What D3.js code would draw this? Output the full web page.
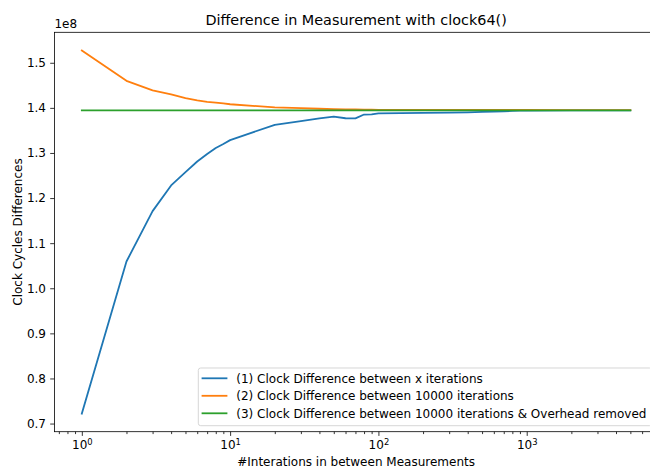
<!DOCTYPE html>
<html>
<head>
<meta charset="utf-8">
<script src="https://cdn.jsdelivr.net/npm/d3@7"></script>
<style>
  html, body { margin: 0; padding: 0; background: #fff; }
  svg { display: block; font-family: "DejaVu Sans", sans-serif; }
</style>
</head>
<body>
<svg id="chart" width="650" height="469"></svg>
<script>
// Iteration counts between measurements (log x axis)
const iterations = [1, 2, 3, 4, 5, 6, 7, 8, 9, 10,
  20, 30, 40, 50, 60, 70, 80, 90, 100,
  200, 300, 400, 500, 600, 700, 800, 900, 1000,
  2000, 3000, 4000, 5000];

// Clock cycle differences, in units of 1e8
const diffXIterations = [0.7222, 1.0594, 1.1710, 1.2280, 1.2574, 1.2810, 1.2975, 1.3110, 1.3200, 1.3285,
  1.3625, 1.3705, 1.3765, 1.3805, 1.3770, 1.3768, 1.3852, 1.3855, 1.3878,
  1.3888, 1.3895, 1.3902, 1.3910, 1.3918, 1.3925, 1.3932, 1.3937, 1.3940,
  1.3944, 1.3945, 1.3945, 1.3945];
const diff10000 = [1.5273, 1.4600, 1.4386, 1.4300, 1.4215, 1.4165, 1.4135, 1.4118, 1.4098, 1.4080,
  1.4010, 1.3995, 1.3980, 1.3972, 1.3966, 1.3965, 1.3960, 1.3958, 1.3957,
  1.3955, 1.3954, 1.3954, 1.3954, 1.3954, 1.3954, 1.3954, 1.3954, 1.3953,
  1.3952, 1.3952, 1.3952, 1.3952];
const diff10000NoOverhead = iterations.map(() => 1.3944);

const seriesLabels = [
  "(1) Clock Difference between x iterations",
  "(2) Clock Difference between 10000 iterations",
  "(3) Clock Difference between 10000 iterations & Overhead removed"
];
const seriesColors = ["#1f77b4", "#ff7f0e", "#2ca02c"];

const yTicks = [0.7, 0.8, 0.9, 1.0, 1.1, 1.2, 1.3, 1.4, 1.5];
const xTicks = [1, 10, 100, 1000];
const xTickExponents = ["0", "1", "2", "3"];

const titleText = "Difference in Measurement with clock64()";
const xLabelText = "#Interations in between Measurements";
const yLabelText = "Clock Cycles Differences";
const offsetText = "1e8";

// ---- layout ----
const svg = d3.select("#chart");
const axLeft = 54.4, axRight = 657.8, axTop = 32.3, axBottom = 431.7;
const fs = 12;

const allSeries = [diffXIterations, diff10000, diff10000NoOverhead];

// autoscale with 5% margins (log space for x)
const lx0 = Math.log10(d3.min(iterations)), lx1 = Math.log10(d3.max(iterations));
const lpad = (lx1 - lx0) * 0.05;
const x = d3.scaleLog()
  .domain([Math.pow(10, lx0 - lpad), Math.pow(10, lx1 + lpad)])
  .range([axLeft, axRight]);

const yMin = d3.min(allSeries, s => d3.min(s));
const yMax = d3.max(allSeries, s => d3.max(s));
const ypad = (yMax - yMin) * 0.05;
const y = d3.scaleLinear()
  .domain([yMin - ypad, yMax + ypad])
  .range([axBottom, axTop]);

// clip for the plot area
svg.append("defs").append("clipPath").attr("id", "plotClip")
  .append("rect").attr("x", axLeft).attr("y", axTop)
  .attr("width", axRight - axLeft).attr("height", axBottom - axTop);

// ---- lines ----
const line = d3.line().x(d => x(d[0])).y(d => y(d[1]));
const plot = svg.append("g").attr("clip-path", "url(#plotClip)");
allSeries.forEach((vals, i) => {
  plot.append("path")
    .datum(iterations.map((it, j) => [it, vals[j]]))
    .attr("d", line)
    .attr("fill", "none")
    .attr("stroke", seriesColors[i])
    .attr("stroke-width", 1.8)
    .attr("stroke-linejoin", "round")
    .attr("stroke-linecap", "square");
});

// ---- axes ----
const [d0, d1] = x.domain();
const minorTicks = [];
for (let e = Math.floor(Math.log10(d0)); e <= Math.ceil(Math.log10(d1)); e++) {
  for (let k = 2; k <= 9; k++) {
    const v = k * Math.pow(10, e);
    if (v >= d0 && v <= d1) minorTicks.push(v);
  }
}

const xMinorAxis = svg.append("g")
  .attr("transform", `translate(0,${axBottom})`)
  .call(d3.axisBottom(x).tickValues(minorTicks).tickSize(2.4).tickSizeOuter(0).tickFormat(""));
xMinorAxis.select(".domain").remove();
xMinorAxis.selectAll("line").attr("stroke", "#000").attr("stroke-width", 0.8);

const xAxis = svg.append("g")
  .attr("transform", `translate(0,${axBottom})`)
  .call(d3.axisBottom(x).tickValues(xTicks).tickSize(4.2).tickPadding(4.2).tickSizeOuter(0).tickFormat(""));
xAxis.select(".domain").remove();
xAxis.selectAll("line").attr("stroke", "#000").attr("stroke-width", 0.8);
xAxis.selectAll(".tick text").each(function(d, i) {
  const t = d3.select(this);
  t.attr("font-size", fs).attr("font-family", "DejaVu Sans").attr("fill", "#000").attr("dy", "0.76em");
  t.text("10");
  t.append("tspan").attr("font-size", 8.4).attr("dy", "-0.55em").text(xTickExponents[i]);
});

const yAxis = svg.append("g")
  .attr("transform", `translate(${axLeft},0)`)
  .call(d3.axisLeft(y).tickValues(yTicks).tickSize(4.2).tickPadding(4.2).tickSizeOuter(0).tickFormat(d3.format(".1f")));
yAxis.select(".domain").remove();
yAxis.selectAll("line").attr("stroke", "#000").attr("stroke-width", 0.8);
yAxis.selectAll("text").attr("font-size", fs).attr("font-family", "DejaVu Sans").attr("fill", "#000");

// spines
const spines = svg.append("g").attr("stroke", "#000").attr("stroke-width", 0.8).attr("fill", "none");
spines.append("rect").attr("x", axLeft).attr("y", axTop)
  .attr("width", axRight - axLeft).attr("height", axBottom - axTop);

// ---- texts ----
svg.append("text").attr("x", (axLeft + axRight) / 2).attr("y", 25)
  .attr("text-anchor", "middle").attr("font-size", 14.4).text(titleText);
svg.append("text").attr("x", axLeft).attr("y", 28)
  .attr("font-size", fs).text(offsetText);
svg.append("text").attr("x", (axLeft + axRight) / 2).attr("y", 466)
  .attr("text-anchor", "middle").attr("font-size", fs).text(xLabelText);
svg.append("text")
  .attr("transform", `translate(22,${(axTop + axBottom) / 2}) rotate(-90)`)
  .attr("text-anchor", "middle").attr("font-size", fs).text(yLabelText);

// ---- legend (lower right) ----
const legPad = 6;
const legRight = axRight - legPad, legBottom = axBottom - legPad;
const legLeft = 198.3, legTop = 368;
const legend = svg.append("g");
legend.append("rect")
  .attr("x", legLeft).attr("y", legTop)
  .attr("width", legRight - legLeft).attr("height", legBottom - legTop)
  .attr("rx", 2.4)
  .attr("fill", "#fff").attr("fill-opacity", 0.8)
  .attr("stroke", "#cccccc").attr("stroke-opacity", 0.8).attr("stroke-width", 1);
const rowY = d3.scalePoint().domain(d3.range(seriesLabels.length)).range([378.3, 413.3]);
seriesLabels.forEach((lab, i) => {
  const cy = rowY(i);
  legend.append("line")
    .attr("x1", 202.5).attr("x2", 226.5).attr("y1", cy).attr("y2", cy)
    .attr("stroke", seriesColors[i]).attr("stroke-width", 1.8).attr("stroke-linecap", "square");
  legend.append("text").attr("x", 236.3).attr("y", cy + 4.3)
    .attr("font-size", fs).text(lab);
});
</script>
</body>
</html>
